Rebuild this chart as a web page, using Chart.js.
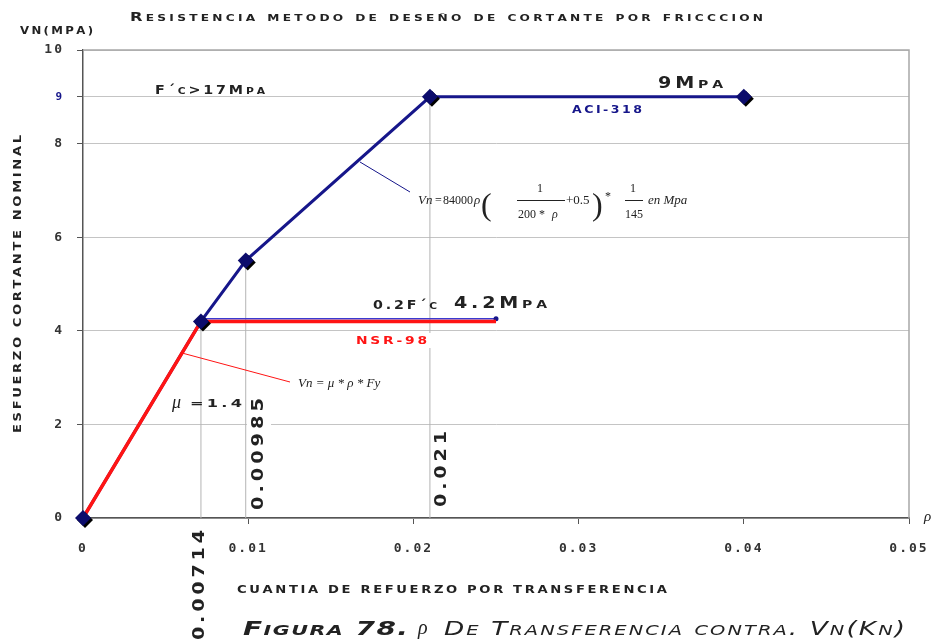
<!DOCTYPE html>
<html>
<head>
<meta charset="utf-8">
<script src="https://cdn.jsdelivr.net/npm/chart.js@4.4.0/dist/chart.umd.min.js"></script>
<style>
  html, body { margin: 0; padding: 0; background: #fff; }
  canvas { display: block; }
</style>
</head>
<body>
<canvas id="grafico" width="936" height="643"></canvas>
<script>
// ticks des axes
const rhoTicks = [0, 0.01, 0.02, 0.03, 0.04, 0.05];
const vnTicks = [0, 2, 4, 6, 8, 9, 10];

// courbe ACI-318 (bleue)
const aciRho = [0, 0.00714, 0.00985, 0.021, 0.04];
const aciVn = [0, 4.2, 5.5, 9, 9];

// courbe NSR-98 (rouge)
const nsrRho = [0, 0.00714, 0.025];
const nsrVn = [0, 4.2, 4.2];

// fin bleue le long du palier 4.2
const bordRho = [0.00714, 0.025];
const bordVn = [4.26, 4.26];

// lignes verticales de rappel
const rappelRho = [0.00714, 0.00985, 0.021];
const rappelVn = [4.2, 5.5, 9];

const bleu = '#16168a';
const rouge = '#ff1414';

const pts = (xs, ys) => xs.map((x, i) => ({ x: x, y: ys[i] }));

// texte en petites capitales, étiré sur une largeur donnée
function texte(ctx, txt, x, y, largeur, o) {
  o = o || {};
  const taille = o.taille || 11;
  const fam = o.famille || 'DejaVu Sans';
  const poids = o.poids || 'bold';
  const style = o.style || 'normal';
  const ratio = o.ratio || 0.75;
  const morceaux = [];
  for (const c of txt) {
    const minus = o.sc !== false && /[a-zñ]/.test(c);
    const g = minus ? c.toUpperCase() : c;
    const f = style + ' ' + poids + ' ' + (minus ? Math.round(taille * ratio) : taille) + 'px "' + fam + '"';
    ctx.font = f;
    morceaux.push({ g: g, f: f, w: ctx.measureText(g).width });
  }
  const gap = o.gap != null ? o.gap : taille * 0.2;
  const nat = morceaux.reduce((s, m) => s + m.w, 0) + gap * (morceaux.length - 1);
  const sx = largeur ? largeur / nat : 1;
  ctx.save();
  ctx.translate(x, y);
  if (o.rot) ctx.rotate(o.rot);
  ctx.scale(sx, 1);
  ctx.fillStyle = o.couleur || '#222';
  ctx.textBaseline = 'alphabetic';
  ctx.textAlign = 'left';
  let cx = 0;
  const base = taille * 0.36;
  for (const m of morceaux) {
    ctx.font = m.f;
    ctx.fillText(m.g, cx, base);
    cx += m.w + gap;
  }
  ctx.restore();
}

function serif(ctx, txt, x, y, taille, italique) {
  ctx.save();
  ctx.font = (italique ? 'italic ' : '') + taille + 'px "Liberation Serif"';
  ctx.fillStyle = '#222';
  ctx.textBaseline = 'alphabetic';
  ctx.textAlign = 'left';
  ctx.fillText(txt, x, y);
  ctx.restore();
}

const ombre = {
  id: 'ombre',
  beforeDatasetDraw(chart, args) {
    if (chart.data.datasets[args.index].ombre) {
      const ctx = chart.ctx;
      ctx.save();
      ctx.shadowColor = '#000';
      ctx.shadowOffsetX = 2;
      ctx.shadowOffsetY = 2;
      ctx.shadowBlur = 0;
    }
  },
  afterDatasetDraw(chart, args) {
    if (chart.data.datasets[args.index].ombre) chart.ctx.restore();
  }
};

const cadre = {
  id: 'cadre',
  beforeDraw(chart) {
    chart.ctx.letterSpacing = '2px';
  },
  beforeDatasetsDraw(chart) {
    const a = chart.chartArea, ctx = chart.ctx;
    ctx.save();
    ctx.strokeStyle = '#a8a8a8';
    ctx.lineWidth = 1.5;
    ctx.beginPath();
    ctx.moveTo(a.left, a.top);
    ctx.lineTo(a.right, a.top);
    ctx.lineTo(a.right, a.bottom);
    ctx.stroke();
    ctx.restore();
  }
};

const annotations = {
  id: 'annotations',
  afterDraw(chart) {
    const ctx = chart.ctx;
    ctx.letterSpacing = '0px';

    texte(ctx, 'Resistencia metodo de deseño de cortante por fricccion', 130, 17, 633, { taille: 12 });
    texte(ctx, 'VN(MPA)', 20, 30, 73, { taille: 10 });
    texte(ctx, 'ESFUERZO CORTANTE NOMINAL', 17, 433, 298, { taille: 10, rot: -Math.PI / 2 });
    texte(ctx, 'CUANTIA DE REFUERZO POR TRANSFERENCIA', 237, 589, 430, { taille: 10 });

    texte(ctx, 'F´c>17Mpa', 155, 90, 110, { taille: 12 });
    texte(ctx, '9Mpa', 658, 83, 65, { taille: 15 });
    texte(ctx, 'ACI-318', 572, 109, 70, { taille: 10, couleur: bleu });
    texte(ctx, '0.2F´c', 373, 305, 64, { taille: 12 });
    texte(ctx, '4.2Mpa', 454, 303, 93, { taille: 15 });

    ctx.fillStyle = '#fff';
    ctx.fillRect(345, 333, 95, 15);
    texte(ctx, 'NSR-98', 356, 340, 71, { taille: 11, couleur: rouge });

    // lignes de renvoi
    ctx.save();
    ctx.lineWidth = 1;
    ctx.strokeStyle = bleu;
    ctx.beginPath(); ctx.moveTo(360, 162); ctx.lineTo(410, 192); ctx.stroke();
    ctx.strokeStyle = rouge;
    ctx.beginPath(); ctx.moveTo(182, 353); ctx.lineTo(290, 382); ctx.stroke();
    ctx.restore();

    // formule ACI
    serif(ctx, 'Vn', 418, 204, 13, true);
    serif(ctx, '=', 435, 204, 12, false);
    serif(ctx, '84000', 443, 204, 12, false);
    serif(ctx, 'ρ', 474, 204, 13, true);
    serif(ctx, '(', 481, 215, 32, false);
    serif(ctx, '1', 537, 192, 12, false);
    serif(ctx, '200 *', 518, 218, 12, false);
    serif(ctx, 'ρ', 552, 218, 12, true);
    serif(ctx, '+0.5', 566, 204, 13, false);
    serif(ctx, ')', 592, 215, 32, false);
    serif(ctx, '*', 605, 200, 12, false);
    serif(ctx, '1', 630, 192, 12, false);
    serif(ctx, '145', 625, 218, 12, false);
    serif(ctx, 'en Mpa', 648, 204, 13, true);
    ctx.save();
    ctx.strokeStyle = '#222';
    ctx.lineWidth = 1;
    ctx.beginPath();
    ctx.moveTo(517, 200.5); ctx.lineTo(565, 200.5);
    ctx.moveTo(625, 200.5); ctx.lineTo(643, 200.5);
    ctx.stroke();
    ctx.restore();

    // formule NSR
    serif(ctx, 'Vn = μ * ρ * Fy', 298, 387, 13, true);
    serif(ctx, 'μ', 172, 408, 18, true);
    texte(ctx, '=1.4', 190, 403, 52, { taille: 11 });

    // valeurs verticales
    ctx.fillStyle = '#fff';
    ctx.fillRect(247, 393, 24, 120);
    ctx.fillRect(433, 427, 16, 85);
    texte(ctx, '0.00714', 199, 640, 110, { taille: 15, rot: -Math.PI / 2 });
    texte(ctx, '0.00985', 258, 510, 112, { taille: 15, rot: -Math.PI / 2 });
    texte(ctx, '0.021', 441, 507, 76, { taille: 15, rot: -Math.PI / 2 });

    serif(ctx, 'ρ', 924, 521, 15, true);

    // légende de la figure
    texte(ctx, 'Figura 78.', 243, 628, 165, { taille: 19, style: 'italic', gap: 1 });
    serif(ctx, 'ρ', 418, 634, 20, true);
    texte(ctx, 'De Transferencia contra. Vn(Kn)', 444, 628, 461, { taille: 19, style: 'italic', poids: 'normal', gap: 1.5 });
  }
};

const datasets = [];
rappelRho.forEach((r, i) => {
  datasets.push({
    data: pts([r, r], [0, rappelVn[i]]), showLine: true,
    borderColor: '#b4b4b4', borderWidth: 1, pointRadius: 0, order: 10
  });
});
datasets.push({
  data: pts(aciRho, aciVn), showLine: true,
  borderColor: bleu, borderWidth: 3, pointRadius: 0, order: 5
});
datasets.push({
  data: pts(bordRho, bordVn), showLine: true,
  borderColor: '#3a3ad0', borderWidth: 1.5,
  pointRadius: [0, 2.5], pointBackgroundColor: bleu, pointBorderWidth: 0, order: 4
});
datasets.push({
  data: pts(nsrRho, nsrVn), showLine: true,
  borderColor: rouge, borderWidth: 3.5, pointRadius: 0, order: 3
});
datasets.push({
  data: pts(aciRho, aciVn),
  showLine: false, ombre: true, clip: false,
  pointStyle: 'rectRot', pointRadius: 8,
  pointBackgroundColor: '#0c0c6c', pointBorderColor: '#0c0c6c', pointBorderWidth: 0,
  order: 1
});

new Chart(document.getElementById('grafico'), {
  type: 'scatter',
  data: { datasets: datasets },
  options: {
    responsive: false,
    devicePixelRatio: 1,
    animation: false,
    layout: { padding: { left: 0, top: 50, right: 27, bottom: 0 } },
    plugins: { legend: { display: false }, tooltip: { enabled: false } },
    elements: { line: { tension: 0, fill: false } },
    scales: {
      x: {
        type: 'linear', min: 0, max: 0.05,
        afterBuildTicks: s => { s.ticks = rhoTicks.map(v => ({ value: v })); },
        afterFit: s => { s.height = 125; s.paddingLeft = 0; s.paddingRight = 0; },
        border: { color: '#555', width: 1.5 },
        grid: { drawOnChartArea: false, tickLength: 6, tickColor: '#555' },
        ticks: {
          padding: 17, color: '#333', maxRotation: 0,
          font: { family: 'DejaVu Sans Mono', size: 13, weight: 'bold' },
          callback: v => v === 0 ? '0' : v.toFixed(2)
        }
      },
      y: {
        type: 'linear', min: 0, max: 10,
        afterBuildTicks: s => { s.ticks = vnTicks.map(v => ({ value: v })); },
        afterFit: s => { s.width = 83; s.paddingTop = 0; s.paddingBottom = 0; },
        border: { color: '#555', width: 1.5 },
        grid: { color: '#c4c4c4', tickLength: 6, tickColor: '#555' },
        ticks: {
          padding: 13,
          color: c => c.tick && c.tick.value === 9 ? bleu : '#333',
          font: c => ({ family: 'DejaVu Sans Mono', size: c.tick && c.tick.value === 9 ? 11 : 13, weight: 'bold' }),
          callback: v => String(v)
        }
      }
    }
  },
  plugins: [cadre, ombre, annotations]
});
</script>
</body>
</html>
